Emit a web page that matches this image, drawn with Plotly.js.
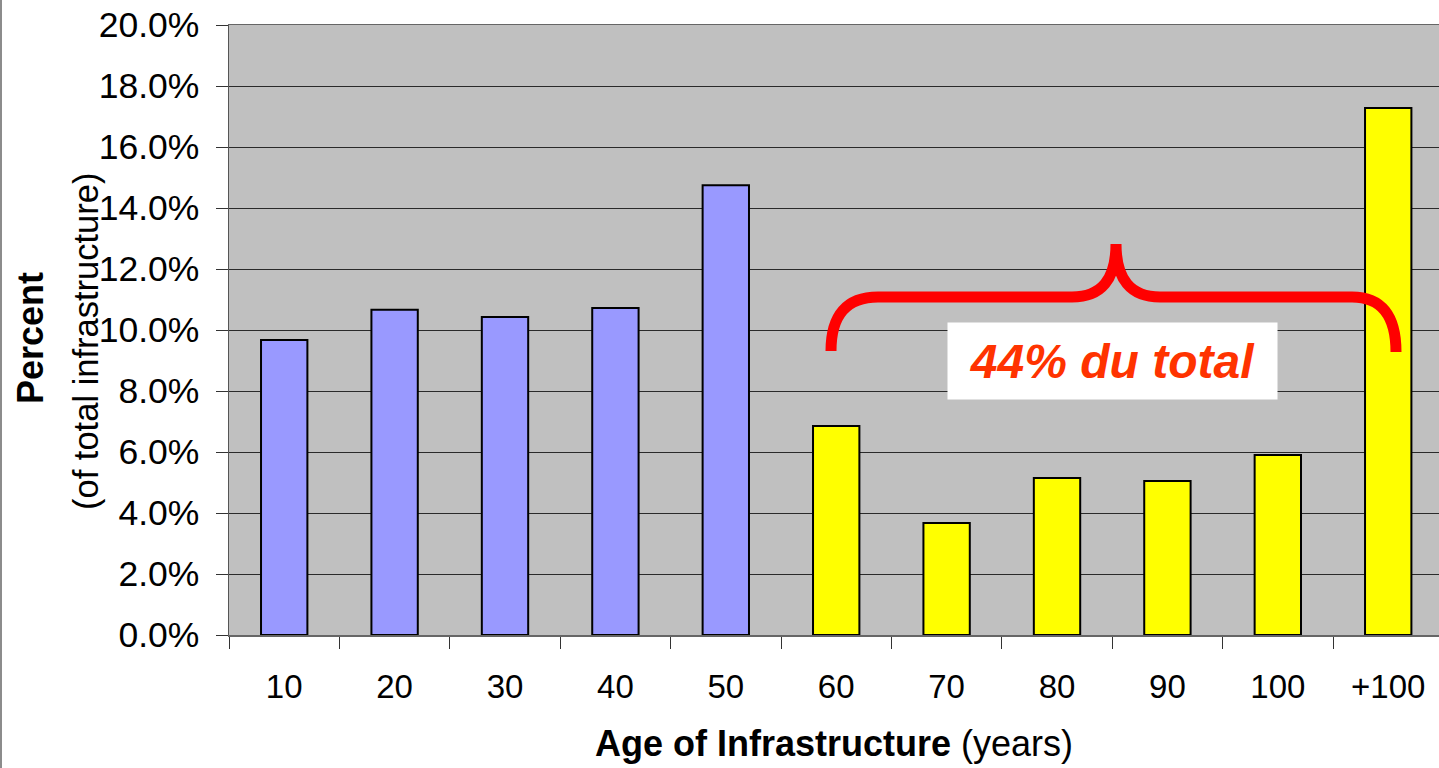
<!DOCTYPE html>
<html>
<head>
<meta charset="utf-8">
<script src="https://cdn.plot.ly/plotly-3.0.1.min.js"></script>
<style>
  html, body { margin: 0; padding: 0; background: #fff; overflow: hidden; }
  #chart { width: 1439px; height: 768px; }
</style>
</head>
<body>
<div id="chart"></div>
<script>
// ---- Data ----
const ageCategories = ['10', '20', '30', '40', '50', '60', '70', '80', '90', '100', '+100'];
const sharePercent  = [0.0967, 0.1066, 0.1043, 0.1072, 0.1475, 0.0685, 0.0367, 0.0515, 0.0505, 0.0590, 0.1728];
const ageGroup      = ['under60', 'under60', 'under60', 'under60', 'under60', 'over60', 'over60', 'over60', 'over60', 'over60', 'over60'];
const yTickValues   = [0, 0.02, 0.04, 0.06, 0.08, 0.10, 0.12, 0.14, 0.16, 0.18, 0.20];
const braceLabel    = '44% du total';
const yTitleMain    = 'Percent';
const yTitleSub     = '(of total infrastructure)';

// ---- Styles ----
const groupColors = { under60: '#9999FF', over60: '#FFFF00' };
const FONT = 'Liberation Sans, Arial, Helvetica, sans-serif';

const W = 1439, H = 768;
const M = { l: 229, r: 0, t: 25, b: 133 };
const plotW = W - M.l - M.r, plotH = H - M.t - M.b;
const px = x => (x - M.l) / plotW;          // pixel -> paper x
const py = y => (H - M.b - y) / plotH;       // pixel -> paper y

// Decorative brace path (paper coordinates from pixel layout)
function P(x, y) { return px(x).toFixed(5) + ',' + py(y).toFixed(5); }
const bracePath =
  'M' + P(831, 351) +
  ' Q' + P(831, 297) + ' ' + P(878, 297) +
  ' L' + P(1072, 297) +
  ' Q' + P(1116, 297) + ' ' + P(1116, 244) +
  ' Q' + P(1116, 297) + ' ' + P(1160, 297) +
  ' L' + P(1352, 297) +
  ' Q' + P(1396, 297) + ' ' + P(1396, 352);

const trace = {
  type: 'bar',
  x: ageCategories,
  y: sharePercent,
  marker: {
    color: ageGroup.map(g => groupColors[g]),
    line: { color: '#000000', width: 2 }
  },
  hoverinfo: 'x+y'
};

const layout = {
  width: W, height: H,
  margin: M,
  paper_bgcolor: '#FFFFFF',
  plot_bgcolor: '#C0C0C0',
  bargap: 0.58,
  showlegend: false,
  font: { family: FONT, color: '#000000', size: 34 },
  xaxis: {
    type: 'category',
    range: [-0.5, 10.46],
    tickson: 'boundaries',
    ticks: 'outside', ticklen: 12, tickwidth: 1, tickcolor: '#333333',
    ticklabelstandoff: 22,
    showline: true, linecolor: '#666666', linewidth: 1.5, mirror: true,
    showgrid: false,
    tickfont: { family: FONT, size: 33, color: '#000' },
    title: { text: '<b>Age of Infrastructure</b> (years)', font: { family: FONT, size: 36, color: '#000' }, standoff: 26 },
    fixedrange: true
  },
  yaxis: {
    range: [0, 0.20],
    tickvals: yTickValues,
    tickformat: '.1%',
    ticks: 'outside', ticklen: 12, tickwidth: 1, tickcolor: '#333333',
    ticklabelstandoff: 9,
    showline: true, linecolor: '#555555', linewidth: 1.5,
    showgrid: true, gridcolor: '#2a2a2a', gridwidth: 1,
    zeroline: false,
    tickfont: { family: FONT, size: 35.5, color: '#000' },
    fixedrange: true
  },
  shapes: [
    { type: 'path', xref: 'paper', yref: 'paper', path: bracePath,
      line: { color: '#FF0000', width: 11 }, layer: 'above' },
    { type: 'line', xref: 'paper', yref: 'paper', x0: px(1), x1: px(1), y0: py(0), y1: py(768),
      line: { color: '#8c8c8c', width: 2 } }
  ],
  annotations: [
    { xref: 'paper', yref: 'paper', x: px(30), y: py(338), xanchor: 'center', yanchor: 'middle',
      text: '<b>' + yTitleMain + '</b>', textangle: -90, showarrow: false,
      font: { family: FONT, size: 36, color: '#000' } },
    { xref: 'paper', yref: 'paper', x: px(86), y: py(342), xanchor: 'center', yanchor: 'middle',
      text: yTitleSub, textangle: -90, showarrow: false,
      font: { family: FONT, size: 34.5, color: '#000' } },
    { xref: 'paper', yref: 'paper', x: px(1112.5), y: py(361), xanchor: 'center', yanchor: 'middle',
      text: '<b><i>' + braceLabel + '</i></b>', showarrow: false,
      font: { family: FONT, size: 48, color: '#FF3300' },
      bgcolor: '#FFFFFF', borderpad: 0, width: 329, height: 76 }
  ]
};

Plotly.newPlot('chart', [trace], layout, { displayModeBar: false, staticPlot: true });
</script>
</body>
</html>
